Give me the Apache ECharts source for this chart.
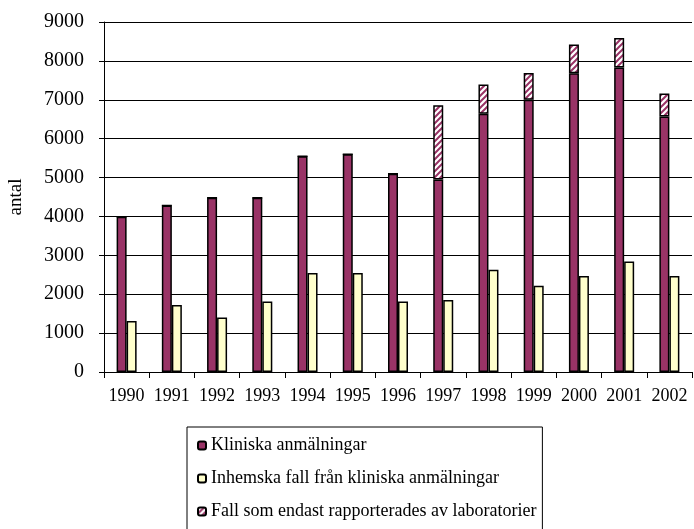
<!DOCTYPE html>
<html>
<head>
<meta charset="utf-8">
<script src="https://cdn.jsdelivr.net/npm/echarts@6/dist/echarts.min.js"></script>
<style>
html, body { margin: 0; padding: 0; background: #fff; }
#main { width: 694px; height: 529px; }
</style>
</head>
<body>
<div id="main"></div>
<script>
// data
var years = ['1990','1991','1992','1993','1994','1995','1996','1997','1998','1999','2000','2001','2002'];
var kliniska = [3990, 4280, 4480, 4480, 5550, 5600, 5100, 4950, 6640, 7000, 7680, 7830, 6570];
var inhemska = [1310, 1720, 1400, 1810, 2545, 2545, 1810, 1850, 2630, 2220, 2470, 2840, 2470];
var endastLab = [0, 0, 0, 0, 0, 0, 0, 1910, 750, 690, 740, 760, 590];
var yTicks = [0, 1000, 2000, 3000, 4000, 5000, 6000, 7000, 8000, 9000];

// hatched fill for the lab series
var pat = document.createElement('canvas');
pat.width = 6; pat.height = 6;
var ctx = pat.getContext('2d');
ctx.fillStyle = '#fff';
ctx.fillRect(0, 0, 6, 6);
ctx.strokeStyle = '#993366';
ctx.lineWidth = 2;
ctx.beginPath();
ctx.moveTo(-1, 7); ctx.lineTo(7, -1);
ctx.moveTo(-4, 4); ctx.lineTo(4, -4);
ctx.moveTo(2, 10); ctx.lineTo(10, 2);
ctx.stroke();

var font = 'Liberation Serif';
var myChart = echarts.init(document.getElementById('main'));
var option = {
    animation: false,
    textStyle: { fontFamily: font },
    grid: { left: 104, right: 2, top: 22, bottom: 157, outerBoundsMode: 'none', containLabel: false },
    legend: {
        orient: 'vertical',
        left: 187,
        top: 427,
        height: 130,
        padding: [8, 6, 30, 10],
        borderColor: '#000',
        borderWidth: 1,
        itemWidth: 8,
        itemHeight: 8,
        itemGap: 12,
        textStyle: { fontFamily: font, fontSize: 18, color: '#000', lineHeight: 21 },
        data: ['Kliniska anmälningar', 'Inhemska fall från kliniska anmälningar', 'Fall som endast rapporterades av laboratorier']
    },
    xAxis: {
        type: 'category',
        data: years,
        axisLine: { lineStyle: { color: '#000', width: 1 } },
        axisTick: { show: true, length: 6, lineStyle: { color: '#000' } },
        axisLabel: { color: '#000', fontSize: 18, fontFamily: font, margin: 15, interval: 0 }
    },
    yAxis: {
        type: 'value',
        min: yTicks[0],
        max: yTicks[yTicks.length - 1],
        interval: 1000,
        name: 'antal',
        nameLocation: 'middle',
        nameRotate: 90,
        nameGap: 78,
        nameTextStyle: { color: '#000', fontSize: 19, fontFamily: font },
        axisLine: { show: true, lineStyle: { color: '#000', width: 1 } },
        axisTick: { show: true, length: 5, lineStyle: { color: '#000' } },
        axisLabel: { color: '#000', fontSize: 20, fontFamily: font, margin: 20, formatter: function (v) { return String(v); } },
        splitLine: { show: true, lineStyle: { color: '#000', width: 1 } }
    },
    series: [
        {
            name: 'Kliniska anmälningar',
            type: 'bar',
            stack: 'a',
            barWidth: 10,
            barGap: '0%',
            data: kliniska,
            itemStyle: { color: '#993366', borderColor: '#000', borderWidth: 1.5 }
        },
        {
            name: 'Inhemska fall från kliniska anmälningar',
            type: 'bar',
            barWidth: 10,
            barGap: '0%',
            data: inhemska,
            itemStyle: { color: '#ffffcc', borderColor: '#000', borderWidth: 1.5 }
        },
        {
            name: 'Fall som endast rapporterades av laboratorier',
            type: 'bar',
            stack: 'a',
            barWidth: 10,
            data: endastLab,
            itemStyle: { color: { image: pat, repetition: 'repeat' }, borderColor: '#000', borderWidth: 1.5 }
        }
    ]
};
myChart.setOption(option);
</script>
</body>
</html>
